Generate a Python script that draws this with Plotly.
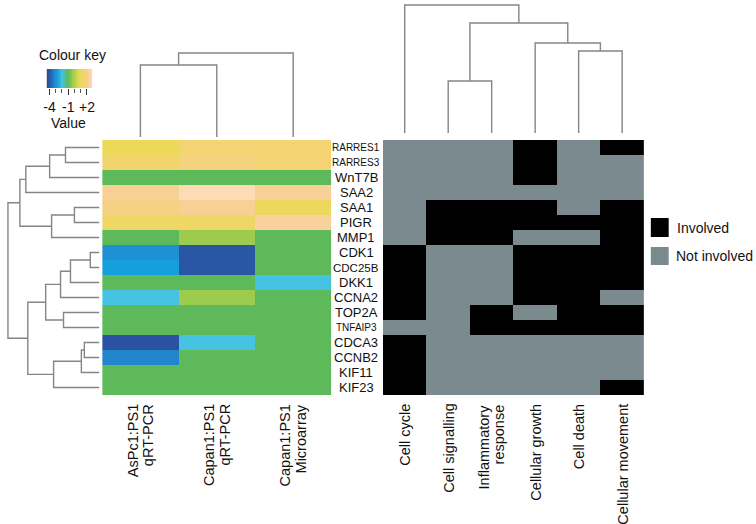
import numpy as np
import plotly.graph_objects as go

W, H = 756, 524

genes = ["RARRES1", "RARRES3", "WnT7B", "SAA2", "SAA1", "PIGR", "MMP1", "CDK1", "CDC25B",
         "DKK1", "CCNA2", "TOP2A", "TNFAIP3", "CDCA3", "CCNB2", "KIF11", "KIF23"]
# labels printed in a condensed face in the original
label_size = {"RARRES1": 10, "RARRES3": 10, "TNFAIP3": 10, "CDC25B": 11.5}

samples = ["AsPc1:PS1<br>qRT-PCR", "Capan1:PS1<br>qRT-PCR", "Capan1:PS1<br>Microarray"]
aspc1_qpcr = [1.0, 1.5, -1.0, 2.2, 1.9, 1.3, -1.0, -3.0, -2.7, -1.0, -2.0, -1.0, -1.0, -4.2, -3.2, -1.0, -1.0]
capan1_qpcr = [1.6, 1.8, -1.0, 2.8, 2.2, 1.3, -0.3, -4.0, -4.0, -1.0, -0.3, -1.0, -1.0, -2.0, -1.0, -1.0, -1.0]
capan1_array = [1.6, 1.6, -1.0, 2.2, 1.1, 2.3, -1.0, -1.0, -1.0, -2.0, -1.0, -1.0, -1.0, -1.0, -1.0, -1.0, -1.0]

functions = ["Cell cycle", "Cell signalling", "Inflammatory<br>response", "Cellular growth",
             "Cell death", "Cellular movement"]
cell_cycle = [0, 0, 0, 0, 0, 0, 0, 1, 1, 1, 1, 1, 0, 1, 1, 1, 1]
cell_signalling = [0, 0, 0, 0, 1, 1, 1, 0, 0, 0, 0, 0, 0, 0, 0, 0, 0]
inflammatory = [0, 0, 0, 0, 1, 1, 1, 0, 0, 0, 0, 1, 1, 0, 0, 0, 0]
cellular_growth = [1, 1, 1, 0, 1, 1, 0, 1, 1, 1, 1, 0, 1, 0, 0, 0, 0]
cell_death = [0, 0, 0, 0, 0, 1, 0, 1, 1, 1, 1, 1, 1, 0, 0, 0, 0]
cellular_movement = [1, 0, 0, 0, 1, 1, 1, 1, 1, 1, 0, 1, 1, 0, 0, 0, 1]

# merges: (child a, child b, height); new nodes numbered after the leaves
gene_merges = [(0, 1, 34), (17, 2, 50), (18, 3, 74), (4, 5, 25), (20, 6, 48), (19, 21, 80),
               (7, 8, 9), (23, 9, 29), (24, 10, 39), (11, 12, 36), (25, 26, 54), (13, 14, 15),
               (28, 15, 18), (29, 16, 46), (27, 30, 72), (22, 31, 92)]
sample_merges = [(0, 1, 72), (3, 2, 84)]
function_merges = [(1, 2, 52), (4, 5, 82), (3, 7, 90), (6, 8, 110), (0, 9, 128)]

key_ticks = [-4, -1, 2]
key_ticktext = ["-4", "-1", "+2"]
zmin, zmax = -4.45, 2.85

expr_scale = [
    [-4.45, "#2c4a9c"], [-4.0, "#2a56a6"], [-3.0, "#2090d4"], [-2.6, "#12a4e0"],
    [-2.0, "#44c4e2"], [-1.0, "#5db95a"], [-0.3, "#9ccb4e"], [0.8, "#e9da52"],
    [1.5, "#f2d46c"], [2.2, "#f8cf94"], [2.85, "#fcdcb8"],
]
colorscale = [[(v - zmin) / (zmax - zmin), c] for v, c in expr_scale]
GRAY = "#7b8a8f"
FONT = "Arial, Liberation Sans, sans-serif"


def dendro(merges, n):
    pos = list(range(n))
    hgt = [0] * n
    p, h = [], []
    for a, b, ht in merges:
        p += [pos[a], pos[a], pos[b], pos[b], None]
        h += [hgt[a], ht, ht, hgt[b], None]
        pos.append((pos[a] + pos[b]) / 2)
        hgt.append(ht)
    return p, h


def px(x):
    return x / W


def py(y):
    return 1 - y / H


fig = go.Figure()

expr = np.array([aspc1_qpcr, capan1_qpcr, capan1_array]).T
fig.add_trace(go.Heatmap(z=expr, x=list(range(len(samples))), y=list(range(len(genes))),
                         colorscale=colorscale, zmin=zmin, zmax=zmax, showscale=False,
                         xaxis="x", yaxis="y"))

involve = np.array([cell_cycle, cell_signalling, inflammatory, cellular_growth,
                    cell_death, cellular_movement]).T
fig.add_trace(go.Heatmap(z=involve, x=list(range(len(functions))), y=list(range(len(genes))),
                         colorscale=[[0, GRAY], [0.5, GRAY], [0.5, "#000000"], [1, "#000000"]],
                         zmin=0, zmax=1, showscale=False, xaxis="x2", yaxis="y2"))

lc = dict(color="#858585", width=1.4)
gp, gh = dendro(gene_merges, len(genes))
fig.add_trace(go.Scatter(x=gh, y=gp, mode="lines", line=lc, xaxis="x3", yaxis="y3",
                         hoverinfo="skip"))
sp, sh = dendro(sample_merges, len(samples))
fig.add_trace(go.Scatter(x=sp, y=sh, mode="lines", line=lc, xaxis="x4", yaxis="y4",
                         hoverinfo="skip"))
fp, fh = dendro(function_merges, len(functions))
fig.add_trace(go.Scatter(x=fp, y=fh, mode="lines", line=lc, xaxis="x5", yaxis="y5",
                         hoverinfo="skip"))

key_x = np.linspace(zmin, zmax, 80)
fig.add_trace(go.Heatmap(z=[key_x], x=key_x, y=[0], colorscale=colorscale, zmin=zmin,
                         zmax=zmax, showscale=False, xaxis="x6", yaxis="y6"))

hidden = dict(visible=False, showgrid=False, zeroline=False, fixedrange=True)
rows_dom = [py(395), py(140)]
n = len(genes)
fig.update_layout(
    width=W, height=H, margin=dict(l=0, r=0, t=0, b=0),
    paper_bgcolor="white", plot_bgcolor="white", showlegend=False,
    font=dict(family=FONT, color="#111111"),
    xaxis=dict(hidden, domain=[px(100), px(331)], range=[-0.5, 2.5]),
    yaxis=dict(hidden, domain=rows_dom, range=[n - 0.5, -0.5]),
    xaxis2=dict(hidden, domain=[px(383), px(646)], range=[-0.5, 5.5]),
    yaxis2=dict(hidden, domain=rows_dom, range=[n - 0.5, -0.5]),
    xaxis3=dict(hidden, domain=[0, px(100)], range=[97, -3]),
    yaxis3=dict(hidden, domain=rows_dom, range=[n - 0.5, -0.5]),
    xaxis4=dict(hidden, domain=[px(100), px(331)], range=[-0.5, 2.5]),
    yaxis4=dict(hidden, domain=[py(140), py(40)], range=[-3, 97]),
    xaxis5=dict(hidden, domain=[px(383), px(646)], range=[-0.5, 5.5]),
    yaxis5=dict(hidden, domain=[py(140), py(0)], range=[-7, 133]),
    xaxis6=dict(domain=[px(44), px(90)], range=[zmin, zmax], showgrid=False, zeroline=False,
                tickvals=key_ticks, ticktext=key_ticktext, ticks="outside", ticklen=6,
                tickcolor="#333", tickfont=dict(size=14, family=FONT), anchor="y6",
                minor=dict(ticks="outside", ticklen=4, dtick=1, tick0=-4, tickcolor="#555"),
                fixedrange=True, showline=False),
    yaxis6=dict(hidden, domain=[py(88), py(69)], range=[-0.5, 0.5]),
)

ann = []
for i, g in enumerate(genes):
    ann.append(dict(x=px(356), y=i, xref="paper", yref="y", text=g, showarrow=False,
                    font=dict(size=label_size.get(g, 13), family=FONT),
                    xanchor="center", yanchor="middle"))


def col_labels(labels, xref):
    for j, lab in enumerate(labels):
        lines = lab.split("<br>")
        for k, line in enumerate(lines):
            ann.append(dict(x=j, y=py(402), xref=xref, yref="paper", text=line,
                            textangle=-90, showarrow=False, xanchor="center", yanchor="top",
                            xshift=(k - (len(lines) - 1) / 2) * 15.5,
                            font=dict(size=14.5, family=FONT)))


col_labels(samples, "x")
col_labels(functions, "x2")

ann += [
    dict(x=px(70), y=py(55), xref="paper", yref="paper", text="Colour key", showarrow=False,
         xanchor="center", yanchor="middle", font=dict(size=14, family=FONT)),
    dict(x=px(66), y=py(123), xref="paper", yref="paper", text="Value", showarrow=False,
         xanchor="center", yanchor="middle", font=dict(size=14, family=FONT)),
    dict(x=px(677), y=py(228), xref="paper", yref="paper", text="Involved", showarrow=False,
         xanchor="left", yanchor="middle", font=dict(size=14, family=FONT)),
    dict(x=px(676), y=py(256), xref="paper", yref="paper", text="Not involved",
         showarrow=False, xanchor="left", yanchor="middle", font=dict(size=14, family=FONT)),
]
fig.update_layout(annotations=ann)

fig.add_shape(type="rect", xref="paper", yref="paper", x0=px(653), x1=px(671), y0=py(237),
              y1=py(218), fillcolor="#000000", line=dict(width=0))
fig.add_shape(type="rect", xref="paper", yref="paper", x0=px(653), x1=px(671), y0=py(265),
              y1=py(247), fillcolor=GRAY, line=dict(width=0))

fig.write_html("out.html", config={"displayModeBar": False},
               post_script="document.body.style.margin='0';")
